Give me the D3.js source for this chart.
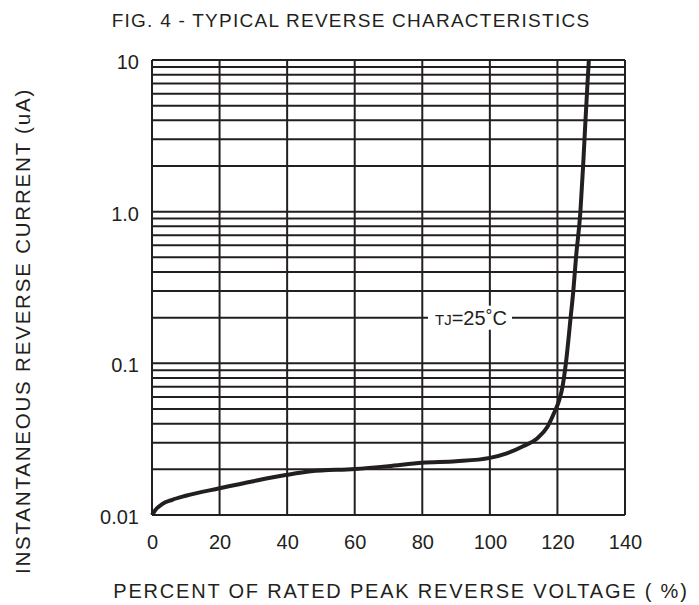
<!DOCTYPE html>
<html>
<head>
<meta charset="utf-8">
<script src="https://cdn.jsdelivr.net/npm/d3@7"></script>
<style>
body { margin: 0; background: #fff; }
svg text { font-family: "Liberation Sans", Arial, sans-serif; fill: #231f20; }
</style>
</head>
<body>
<script>
// curve: percent of rated voltage -> current (uA)
var pct = [0, 1, 3, 6, 10, 20, 30, 40, 47, 60, 70, 80, 90, 100, 105, 110, 114, 117, 119, 120.5, 121.5, 122.5, 123.9, 124.7, 125.5, 126.8, 127.6, 128.3, 128.9, 129.3];
var cur = [0.0100, 0.0108, 0.0118, 0.0126, 0.0134, 0.0150, 0.0167, 0.0184, 0.0194, 0.0201, 0.0210, 0.0221, 0.0226, 0.0238, 0.0255, 0.0285, 0.0320, 0.038, 0.047, 0.057, 0.070, 0.10, 0.20, 0.30, 0.50, 1.0, 2.0, 4.0, 7.0, 10];

var xTicks = [0, 20, 40, 60, 80, 100, 120, 140];
var yTicks = [0.01, 0.1, 1, 10];
var yTickLabels = ["0.01", "0.1", "1.0", "10"];

var W = 699, H = 605;
var pl = 152, pr = 625, pt = 60, pb = 515;
var ink = "#231f20";

var svg = d3.select("body").append("svg")
    .attr("width", W)
    .attr("height", H);

var x = d3.scaleLinear().domain([0, 140]).range([pl, pr]);
var y = d3.scaleLog().domain([0.01, 10]).range([pb, pt]);

// minor log grid 1..9 in every decade
var yGrid = [];
for (var d = 0; d < 3; d++) {
    var base = yTicks[d];
    for (var m = 1; m < 10; m++) yGrid.push(base * m);
}
yGrid.push(10);

var grid = svg.append("g");
grid.selectAll("line.h").data(yGrid).enter().append("line")
    .attr("class", "h")
    .attr("x1", pl).attr("x2", pr)
    .attr("y1", function (v) { return y(v); })
    .attr("y2", function (v) { return y(v); })
    .attr("stroke", ink).attr("stroke-width", 2);

grid.selectAll("line.v").data(xTicks).enter().append("line")
    .attr("class", "v")
    .attr("y1", pt).attr("y2", pb)
    .attr("x1", function (v) { return x(v); })
    .attr("x2", function (v) { return x(v); })
    .attr("stroke", ink).attr("stroke-width", 2);

// label box on the 0.2 line
var lab = svg.append("g");
lab.append("rect")
    .attr("x", 428).attr("y", y(0.2) - 12)
    .attr("width", 84).attr("height", 24)
    .attr("fill", "#fff");
var t = lab.append("text")
    .attr("x", 435).attr("y", y(0.2) + 7);
t.append("tspan").attr("font-size", 15).text("TJ");
t.append("tspan").attr("font-size", 20).text("=25");
t.append("tspan").attr("font-size", 17).attr("dy", -4).text("°");
t.append("tspan").attr("font-size", 20).attr("dy", 4).text("C");

var line = d3.line()
    .x(function (d) { return x(d[0]); })
    .y(function (d) { return y(d[1]); })
    .curve(d3.curveMonotoneX);

svg.append("path")
    .datum(d3.zip(pct, cur))
    .attr("d", line)
    .attr("fill", "none")
    .attr("stroke", ink)
    .attr("stroke-width", 4);

// axes: only labels, the frame is the grid
var xAxis = d3.axisBottom(x).tickValues(xTicks).tickSize(0).tickPadding(20);
var gx = svg.append("g").attr("transform", "translate(0," + pb + ")").call(xAxis);
gx.select(".domain").remove();
gx.selectAll("text").attr("font-size", 20).attr("fill", ink)
    .attr("font-family", "Liberation Sans, Arial, sans-serif");

var yAxis = d3.axisLeft(y).tickValues(yTicks).tickSize(0).tickPadding(13)
    .tickFormat(function (v, i) { return yTickLabels[i]; });
var gy = svg.append("g").attr("transform", "translate(" + pl + ",2)").call(yAxis);
gy.select(".domain").remove();
gy.selectAll("text").attr("font-size", 20).attr("fill", ink)
    .attr("font-family", "Liberation Sans, Arial, sans-serif");

svg.append("text")
    .attr("x", 351).attr("y", 27)
    .attr("text-anchor", "middle")
    .attr("font-size", 19).attr("letter-spacing", 1.25)
    .text("FIG. 4 - TYPICAL REVERSE CHARACTERISTICS");

svg.append("text")
    .attr("x", 401).attr("y", 598)
    .attr("text-anchor", "middle")
    .attr("font-size", 20).attr("letter-spacing", 1.8)
    .text("PERCENT OF RATED PEAK REVERSE VOLTAGE ( %)");

svg.append("text")
    .attr("transform", "translate(30,331) rotate(-90)")
    .attr("text-anchor", "middle")
    .attr("font-size", 20.5).attr("letter-spacing", 1.8)
    .text("INSTANTANEOUS REVERSE CURRENT (uA)");
</script>
</body>
</html>
